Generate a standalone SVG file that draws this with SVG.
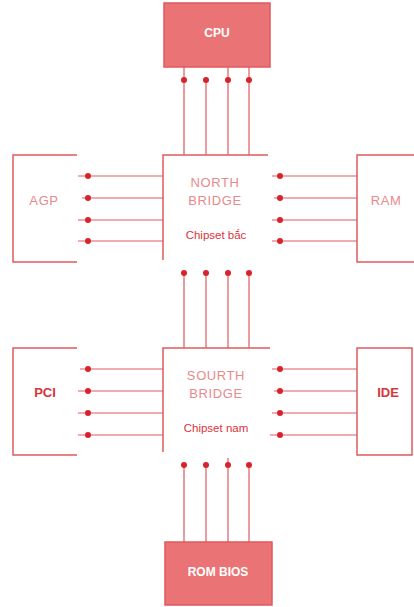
<svg xmlns="http://www.w3.org/2000/svg" width="414" height="607" viewBox="0 0 414 607">
<style>
.bg{fill:#ffffff}
.line{stroke:#e05a5e;stroke-width:1.2;fill:none}
.edge{stroke:#e05a5e;stroke-width:1.5;fill:none}
.dot{fill:#d8232a}
.solid{fill:#ea7475;stroke:#e2585c;stroke-width:1.5}
.wt{font-family:"Liberation Sans",Arial,sans-serif;font-size:12px;font-weight:bold;fill:#ffffff;text-anchor:middle}
.lt{font-family:"Liberation Sans",Arial,sans-serif;font-size:13px;fill:#e88a8c;text-anchor:middle;letter-spacing:0.6px}
.bt{font-family:"Liberation Sans",Arial,sans-serif;font-size:13px;font-weight:bold;fill:#d8343a;text-anchor:middle}
.ct{font-family:"Liberation Sans",Arial,sans-serif;font-size:11.5px;fill:#d8343a;text-anchor:middle}
</style>
<rect class="bg" x="0" y="0" width="414" height="607"/>
<g id="connectors">
  <line class="line" x1="184" y1="67" x2="184" y2="155"/>
  <line class="line" x1="206" y1="80" x2="206" y2="155"/>
  <line class="line" x1="228" y1="67" x2="228" y2="155"/>
  <line class="line" x1="249" y1="67" x2="249" y2="155"/>
  <circle class="dot" cx="184" cy="80" r="3"/>
  <circle class="dot" cx="206" cy="80" r="3"/>
  <circle class="dot" cx="228" cy="80" r="3"/>
  <circle class="dot" cx="249" cy="80" r="3"/>
  <line class="line" x1="78" y1="176" x2="163" y2="176"/>
  <line class="line" x1="82" y1="198" x2="163" y2="198"/>
  <line class="line" x1="78" y1="220" x2="163" y2="220"/>
  <line class="line" x1="78" y1="241" x2="163" y2="241"/>
  <circle class="dot" cx="88" cy="176" r="3"/>
  <circle class="dot" cx="88" cy="198" r="3"/>
  <circle class="dot" cx="88" cy="220" r="3"/>
  <circle class="dot" cx="88" cy="241" r="3"/>
  <line class="line" x1="272" y1="176" x2="357" y2="176"/>
  <line class="line" x1="274" y1="198" x2="357" y2="198"/>
  <line class="line" x1="272" y1="220" x2="357" y2="220"/>
  <line class="line" x1="272" y1="241" x2="357" y2="241"/>
  <circle class="dot" cx="280" cy="176" r="3"/>
  <circle class="dot" cx="280" cy="198" r="3"/>
  <circle class="dot" cx="280" cy="220" r="3"/>
  <circle class="dot" cx="280" cy="241" r="3"/>
  <line class="line" x1="184" y1="273" x2="184" y2="348"/>
  <line class="line" x1="206" y1="273" x2="206" y2="348"/>
  <line class="line" x1="228" y1="273" x2="228" y2="348"/>
  <line class="line" x1="249" y1="273" x2="249" y2="348"/>
  <circle class="dot" cx="184" cy="273" r="3"/>
  <circle class="dot" cx="206" cy="273" r="3"/>
  <circle class="dot" cx="228" cy="273" r="3"/>
  <circle class="dot" cx="249" cy="273" r="3"/>
  <line class="line" x1="80" y1="369" x2="163" y2="369"/>
  <line class="line" x1="78" y1="391" x2="163" y2="391"/>
  <line class="line" x1="78" y1="413" x2="163" y2="413"/>
  <line class="line" x1="78" y1="435" x2="163" y2="435"/>
  <circle class="dot" cx="88" cy="369" r="3"/>
  <circle class="dot" cx="88" cy="391" r="3"/>
  <circle class="dot" cx="88" cy="413" r="3"/>
  <circle class="dot" cx="88" cy="435" r="3"/>
  <line class="line" x1="272" y1="369" x2="357" y2="369"/>
  <line class="line" x1="274" y1="391" x2="357" y2="391"/>
  <line class="line" x1="272" y1="413" x2="357" y2="413"/>
  <line class="line" x1="270" y1="435" x2="357" y2="435"/>
  <circle class="dot" cx="280" cy="369" r="3"/>
  <circle class="dot" cx="280" cy="391" r="3"/>
  <circle class="dot" cx="280" cy="413" r="3"/>
  <circle class="dot" cx="280" cy="435" r="3"/>
  <line class="line" x1="184" y1="465" x2="184" y2="542"/>
  <line class="line" x1="206" y1="465" x2="206" y2="542"/>
  <line class="line" x1="228" y1="458" x2="228" y2="542"/>
  <line class="line" x1="249" y1="465" x2="249" y2="542"/>
  <circle class="dot" cx="184" cy="465" r="3"/>
  <circle class="dot" cx="206" cy="465" r="3"/>
  <circle class="dot" cx="228" cy="465" r="3"/>
  <circle class="dot" cx="249" cy="465" r="3"/>
</g>
<g id="cpu">
  <rect class="solid" x="164" y="3" width="106" height="64"/>
  <text class="wt" x="217" y="37">CPU</text>
</g>
<g id="north-bridge">
  <path class="edge" d="M268,155 H163 V260"/>
  <text class="lt" x="215" y="187">NORTH</text>
  <text class="lt" x="215" y="205">BRIDGE</text>
  <text class="ct" x="216" y="239">Chipset bắc</text>
</g>
<g id="agp">
  <path class="edge" d="M77,155 H13 V262 H77"/>
  <text class="lt" x="44" y="205">AGP</text>
</g>
<g id="ram">
  <path class="edge" d="M414,155 H357 V262 H414"/>
  <text class="lt" x="386" y="205">RAM</text>
</g>
<g id="south-bridge">
  <path class="edge" d="M270,348 H163 V452"/>
  <text class="lt" x="216" y="380">SOURTH</text>
  <text class="lt" x="216" y="398">BRIDGE</text>
  <text class="ct" x="216" y="432">Chipset nam</text>
</g>
<g id="pci">
  <path class="edge" d="M77,348 H13 V455 H77"/>
  <text class="bt" x="45" y="397">PCI</text>
</g>
<g id="ide">
  <path class="edge" d="M412,348 H357 V455 H412 Z"/>
  <text class="bt" x="388" y="397">IDE</text>
</g>
<g id="rom-bios">
  <rect class="solid" x="165" y="542" width="107" height="63"/>
  <text class="wt" x="218" y="576">ROM BIOS</text>
</g>
</svg>
